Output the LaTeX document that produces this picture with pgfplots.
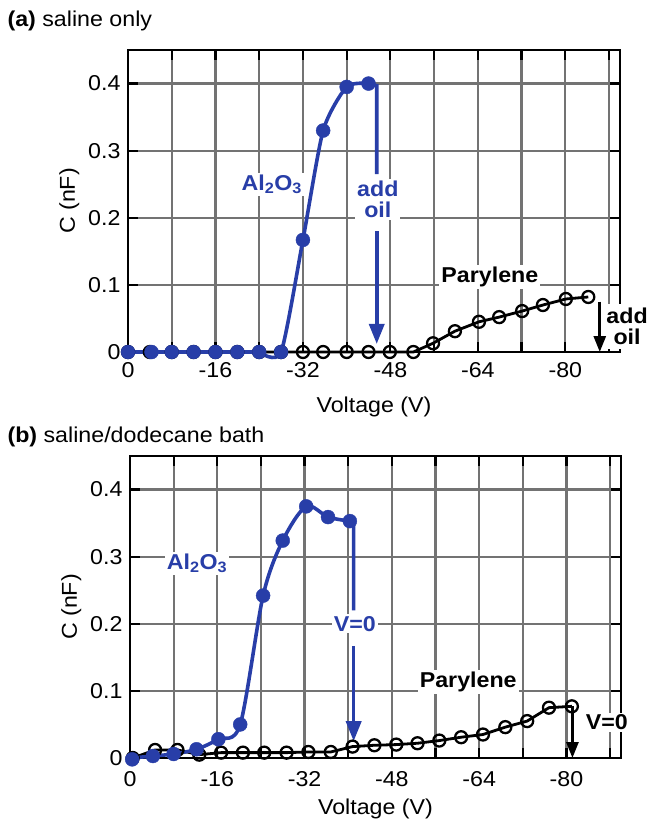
\documentclass[border=0pt]{standalone}
\usepackage{fontspec}
\setmainfont{Liberation Sans}[FakeStretch=1.08]
\usepackage{pgfplots}
\pgfplotsset{compat=1.18}
\usetikzlibrary{arrows.meta}
\definecolor{alblue}{RGB}{40,62,168}
\definecolor{gridgray}{RGB}{115,115,115}
\newcommand{\bigf}{\fontsize{21.5}{23}\selectfont}

\tikzset{lab/.style={font=\bigf\bfseries, fill=white, inner sep=2pt, align=center}}

\pgfplotsset{panel/.style={
  width=492pt, height=302pt, scale only axis,
  x dir=reverse, xmin=-90, xmax=0, ymin=0, ymax=0.45,
  xtick={0,-16,-32,-48,-64,-80}, xticklabels={0,-16,-32,-48,-64,-80},
  minor xtick={-8,-24,-40,-56,-72,-88},
  ytick={0,0.1,0.2,0.3,0.4}, yticklabels={0,0.1,0.2,0.3,0.4},
  grid=both,
  major grid style={gridgray, line width=2.2pt},
  minor grid style={gridgray, line width=2.2pt},
  tick align=inside, major tick length=10pt, minor tick length=10pt,
  every tick/.style={black, line width=2.2pt},
  axis line style={line width=2.6pt},
  ticklabel style={font=\bigf},
  label style={font=\bigf},
  yticklabel shift=4pt,
  ylabel shift=2pt,
  xlabel={Voltage (V)}, ylabel={C (nF)},
  clip=false,
  },
  blueline/.style={alblue, line width=3.6pt},
  bluemarks/.style={alblue, only marks, mark=*, mark size=7pt},
  parylene/.style={black, line width=2.8pt, mark=o, mark size=6pt,
    mark options={fill=white, line width=2.3pt}},
}

\begin{document}
\begin{tikzpicture}[font=\bigf]
\useasboundingbox (0,0) rectangle (650pt,-819pt);
\node[anchor=west] at (4pt,-21pt) {\textbf{(a)} saline only};
\node[anchor=west] at (4pt,-437pt) {\textbf{(b)} saline/dodecane bath};

% (a) saline only
\begin{axis}[panel, at={(128pt,-352pt)}, anchor=south west,
  xticklabel shift=7pt, xlabel shift=12pt]
\node[lab, text=alblue] at (axis cs:-26.3,0.25) {Al\textsubscript{2}O\textsubscript{3}};
\node[lab] at (axis cs:-66.2,0.112) {Parylene};
\node[lab, text=alblue] at (axis cs:-45.7,0.227) {add\\[-2pt]oil};
\node[lab, inner sep=4pt] at (axis cs:-91.3,0.038) {add\\[-2pt]oil};
\draw[alblue, line width=3.6pt] (axis cs:-44,0.40) -- (axis cs:-45.5,0.397) -- (axis cs:-45.5,0.265);
\draw[alblue, line width=3.6pt, -{Triangle[length=20pt,width=15pt]}] (axis cs:-45.5,0.18) -- (axis cs:-45.5,0.012);
\draw[black, line width=2.8pt, -{Triangle[length=16pt,width=12pt]}] (axis cs:-86.3,0.075) -- (axis cs:-86.3,0);

\addplot[parylene] coordinates {
  (0,0) (-4,0) (-8,0) (-12,0) (-16,0) (-20,0) (-24,0) (-28,0)
  (-32,0) (-35.7,0) (-40,0) (-44,0) (-47.9,0) (-52.2,0)
  (-55.8,0.013) (-59.8,0.031) (-64.2,0.045) (-67.9,0.052)
  (-72.1,0.061) (-75.9,0.070) (-80.1,0.079) (-84.2,0.082)};
\addplot[blueline] coordinates {(0,0) (-24,0)};
\addplot[blueline, smooth, tension=0.4] coordinates {(-24,0) (-28,0) (-32,0.167) (-35.7,0.33) (-40,0.395) (-44,0.40)};
\addplot[bluemarks] coordinates {
  (0,0) (-4.3,0) (-8,0) (-12,0) (-16,0) (-20,0) (-24,0) (-28,0)
  (-32,0.167) (-35.7,0.33) (-40,0.395) (-44,0.40)};
\end{axis}

% (b) saline/dodecane bath
\begin{axis}[panel, at={(130pt,-758pt)}, anchor=south west, width=491pt,
  xticklabel shift=10pt, xlabel shift=5pt]
\node[lab, text=alblue] at (axis cs:-12.3,0.29) {Al\textsubscript{2}O\textsubscript{3}};
\node[lab] at (axis cs:-62,0.113) {Parylene};
\node[lab, text=alblue] at (axis cs:-41.2,0.2) {V=0};
\node[lab] at (axis cs:-87.4,0.053) {V=0};
\draw[alblue, line width=3.6pt] (axis cs:-40.3,0.353) -- (axis cs:-41,0.35) -- (axis cs:-41,0.22);
\draw[alblue, line width=3.6pt, -{Triangle[length=20pt,width=15pt]}] (axis cs:-41,0.167) -- (axis cs:-41,0.025);
\draw[black, line width=2.8pt, -{Triangle[length=16pt,width=12pt]}] (axis cs:-81.1,0.077) -- (axis cs:-81.1,0);

\addplot[parylene] coordinates {
  (-0.5,0) (-4.6,0.012) (-8.7,0.012) (-12.7,0.005) (-16.7,0.008) (-20.7,0.008)
  (-24.6,0.008) (-28.7,0.008) (-32.7,0.009) (-36.8,0.009) (-40.8,0.017)
  (-44.8,0.019) (-48.8,0.020) (-52.7,0.022) (-56.7,0.026) (-60.7,0.031)
  (-64.7,0.035) (-68.8,0.046) (-72.8,0.055) (-76.8,0.075) (-81.0,0.077)};
\addplot[blueline, smooth] coordinates {
  (-0.4,0) (-4.2,0.003) (-8,0.006) (-12.2,0.013) (-16.2,0.028) (-20.2,0.05)
  (-24.4,0.242) (-28,0.324) (-32.3,0.375) (-36.3,0.359) (-40.3,0.353)};
\addplot[bluemarks] coordinates {
  (-0.4,-0.002) (-4.2,0.003) (-8,0.006) (-12.2,0.013) (-16.2,0.028) (-20.2,0.05)
  (-24.4,0.242) (-28,0.324) (-32.3,0.375) (-36.3,0.359) (-40.3,0.353)};
\end{axis}
\end{tikzpicture}
\end{document}
